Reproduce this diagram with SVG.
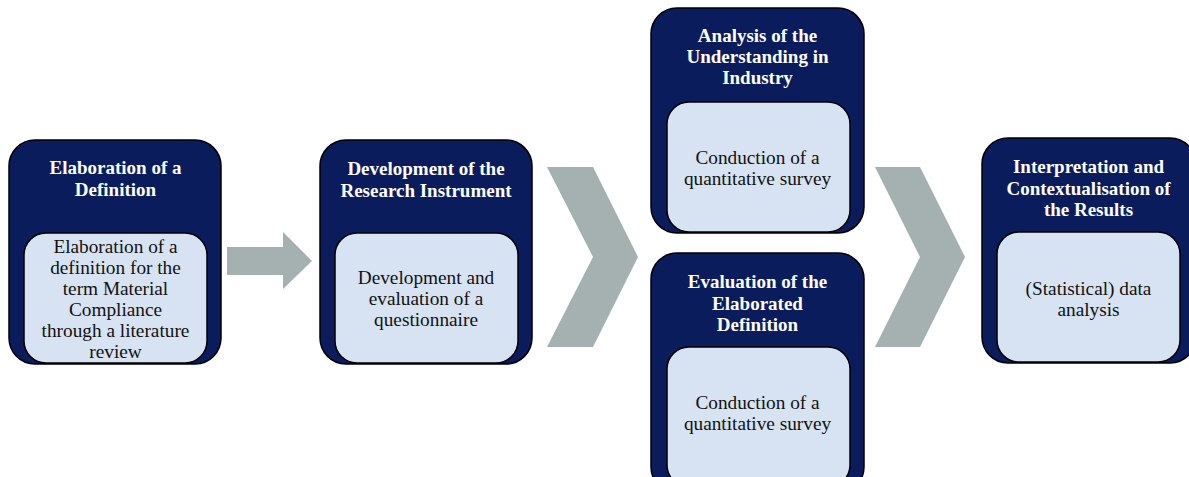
<svg xmlns="http://www.w3.org/2000/svg" width="1189" height="477" viewBox="0 0 1189 477">
  <style>
    .outer { fill: #0a1c5c; stroke: #000; stroke-width: 1.5; }
    .inner { fill: #d7e3f3; stroke: #000; stroke-width: 1.5; }
    .flow { fill: #a4b1b0; }
    .title { font-family: "Liberation Serif", "Times New Roman", serif; font-size: 19px; font-weight: bold; fill: #fff; text-anchor: middle; }
    .body { font-family: "Liberation Serif", "Times New Roman", serif; font-size: 19.3px; fill: #111; text-anchor: middle; }
  </style>
  <rect width="1189" height="477" fill="#fff"/>

  <!-- flow markers between the stages -->
  <g id="connectors">
    <polygon class="flow" points="227,247 283,247 283,232 312,261 283,289 283,275 227,275"/>
    <polygon class="flow" points="547,167 593,167 638,257 593,347 547,347 593,257"/>
    <polygon class="flow" points="875,167 920,167 965,257 920,347 875,347 920,257"/>
  </g>

  <g id="stage-definition">
    <rect class="outer" x="9" y="140" width="212" height="224" rx="26"/>
    <rect class="inner" x="24" y="233" width="183" height="130" rx="22"/>
    <text class="title" x="115.5" y="174">Elaboration of a</text>
    <text class="title" x="115.5" y="196">Definition</text>
    <text class="body" x="115.5" y="253">Elaboration of a</text>
    <text class="body" x="115.5" y="274">definition for the</text>
    <text class="body" x="115.5" y="295">term Material</text>
    <text class="body" x="115.5" y="316">Compliance</text>
    <text class="body" x="115.5" y="337">through a literature</text>
    <text class="body" x="115.5" y="358">review</text>
  </g>

  <g id="stage-instrument">
    <rect class="outer" x="320" y="140" width="212" height="224" rx="26"/>
    <rect class="inner" x="335" y="233" width="183" height="130" rx="22"/>
    <text class="title" x="426" y="175">Development of the</text>
    <text class="title" x="426" y="197">Research Instrument</text>
    <text class="body" x="426" y="284">Development and</text>
    <text class="body" x="426" y="305">evaluation of a</text>
    <text class="body" x="426" y="326">questionnaire</text>
  </g>

  <g id="stage-industry">
    <rect class="outer" x="651" y="8" width="213" height="225" rx="26"/>
    <rect class="inner" x="667" y="102" width="183" height="130" rx="22"/>
    <text class="title" x="757.5" y="42">Analysis of the</text>
    <text class="title" x="757.5" y="63">Understanding in</text>
    <text class="title" x="757.5" y="84">Industry</text>
    <text class="body" x="757.5" y="164">Conduction of a</text>
    <text class="body" x="757.5" y="185">quantitative survey</text>
  </g>

  <g id="stage-evaluation">
    <rect class="outer" x="651" y="253" width="213" height="240" rx="26"/>
    <rect class="inner" x="667" y="347" width="183" height="140" rx="22"/>
    <text class="title" x="757.5" y="288">Evaluation of the</text>
    <text class="title" x="757.5" y="310">Elaborated</text>
    <text class="title" x="757.5" y="331">Definition</text>
    <text class="body" x="757.5" y="409">Conduction of a</text>
    <text class="body" x="757.5" y="430">quantitative survey</text>
  </g>

  <g id="stage-results">
    <rect class="outer" x="982" y="138" width="214" height="225" rx="26"/>
    <rect class="inner" x="997" y="232" width="183" height="130" rx="22"/>
    <text class="title" x="1088.5" y="173">Interpretation and</text>
    <text class="title" x="1088.5" y="195">Contextualisation of</text>
    <text class="title" x="1088.5" y="216">the Results</text>
    <text class="body" x="1088.5" y="295">(Statistical) data</text>
    <text class="body" x="1088.5" y="316">analysis</text>
  </g>
</svg>
